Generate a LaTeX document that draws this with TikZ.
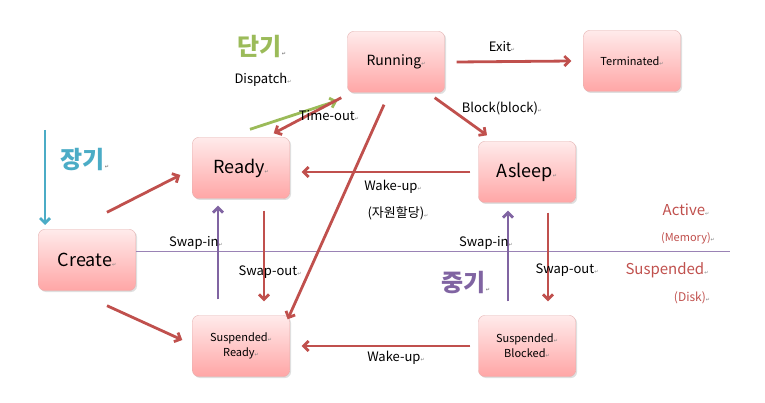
\documentclass[tikz,border=0pt]{standalone}
\usepackage{fontspec}
\setmainfont{Noto Sans CJK KR}
\newfontfamily\djv{DejaVu Sans}
\usetikzlibrary{arrows.meta,shadows}
\definecolor{ared}{HTML}{C0504D}
\definecolor{agreen}{HTML}{9BBB59}
\definecolor{apurple}{HTML}{8064A2}
\definecolor{ablue}{HTML}{4BACC6}
\newcommand{\pmk}{{\djv\color{gray}\tiny\char"21B5}}
\tikzset{
 st/.style={draw=ared!45,rounded corners=6pt,minimum width=97pt,minimum height=61pt,
   top color=red!8,bottom color=red!35,drop shadow={opacity=0.25,shadow xshift=1.5pt,shadow yshift=-1.5pt},align=center},
 ar/.style={line width=2.8pt,-{Straight Barb[length=5pt,width=10pt]},#1},
 ar/.default=ared,
 lb/.style={font=\fontsize{13}{15}\selectfont},
}
\begin{document}
\begin{tikzpicture}[x=1pt,y=-1pt]
\useasboundingbox (0,0) rectangle (765,403);
\node[st,font=\fontsize{14}{16}\selectfont] (run) at (396,62) {Running\pmk};
\node[st,font=\fontsize{11}{13}\selectfont] (term) at (632,61) {Terminated\pmk};
\node[st,font=\fontsize{18}{20}\selectfont] (ready) at (241,168) {Ready\pmk};
\node[st,font=\fontsize{18}{20}\selectfont] (asleep) at (527,172) {Asleep\pmk};
\node[st,font=\fontsize{18}{20}\selectfont] (create) at (87,260) {Create\pmk};
\node[st,font=\fontsize{11}{15}\selectfont] (sr) at (241,346) {Suspended\pmk\\Ready\pmk};
\node[st,font=\fontsize{11}{15}\selectfont] (sb) at (527,346) {Suspended\pmk\\Blocked\pmk};
\draw[apurple!80,line width=0.6pt] (create.east|-0,251) -- (730,251);
% arrows
\draw[ar] ([xshift=12pt]run.east) -- ([xshift=-12pt]term.west);
\node[lb] (lexit) at (502,47) {Exit\pmk};
\draw[ar=agreen] ([xshift=9pt,yshift=8pt]ready.north) -- ([xshift=-10pt,yshift=-8pt]run.south west);
\node[lb] (ldisp) at (263,80) {Dispatch\pmk};
\node[text=agreen,font=\fontsize{24}{26}\selectfont\bfseries] (dan) at (262,47) {단기\pmk};
\draw[ar] ([xshift=-6pt,yshift=-5pt]run.south west) -- ([xshift=-16pt,yshift=4pt]ready.north east);
\node[lb] (lto) at (329,116) {Time-out\pmk};
\draw[ar] ([xshift=-10pt,yshift=-5pt]run.south east) -- ([xshift=-40pt,yshift=6pt]asleep.north);
\node[lb] (lblk) at (502,108) {Block(block)\pmk};
\draw[ar] ([xshift=-8pt]asleep.west) -- ([xshift=12pt]asleep.west-|ready.east);
\node[lb] (lwu1) at (393,187) {Wake-up\pmk};
\node[lb] (lwu2) at (398,213) {(자원할당)\pmk};
\draw[ar] ([xshift=-12pt,yshift=-12pt]run.south) -- ([xshift=-2pt,yshift=-4pt]sr.north east);
\draw[ar] ([xshift=20pt,yshift=17pt]create.north) -- ([xshift=-12pt,yshift=-7pt]ready.west);
\draw[ar] ([xshift=20pt,yshift=-15pt]create.south) -- ([xshift=-10pt,yshift=6pt]sr.west);
\draw[ar] ([xshift=23pt,yshift=-12pt]ready.south) -- ([xshift=23pt,yshift=14pt]sr.north);
\node[lb] (lso1) at (270,272) {Swap-out\pmk};
\draw[ar=apurple] ([xshift=-23pt,yshift=16pt]sr.north) -- ([xshift=-23pt,yshift=-7pt]ready.south);
\node[lb] (lsi1) at (196,243) {Swap-in\pmk};
\draw[ar] ([xshift=21pt,yshift=-10pt]asleep.south) -- ([xshift=21pt,yshift=14pt]sb.north);
\node[lb] (lso2) at (567,270) {Swap-out\pmk};
\draw[ar=apurple] ([xshift=-19pt,yshift=14pt]sb.north) -- ([xshift=-19pt,yshift=-8pt]asleep.south);
\node[lb] (lsi2) at (486,243) {Swap-in\pmk};
\draw[ar] ([xshift=-8pt]sb.west) -- ([xshift=12pt]sr.east);
\node[lb] (lwu3) at (396,358) {Wake-up\pmk};
\draw[ar=ablue] (45,130) coordinate (b1) -- (45,225) coordinate (b2);
\node[text=ablue,font=\fontsize{24}{26}\selectfont\bfseries] (jang) at (85,160) {장기\pmk};
\node[text=apurple,font=\fontsize{24}{26}\selectfont\bfseries] (jung) at (466,283) {중기\pmk};
\node[text=ared,font=\fontsize{15}{17}\selectfont] (act) at (686,210) {Active\pmk};
\node[text=ared,font=\fontsize{11}{13}\selectfont] (mem) at (688,238) {(Memory)\pmk};
\node[text=ared,font=\fontsize{15}{17}\selectfont] (sus) at (667,270) {Suspended\pmk};
\node[text=ared,font=\fontsize{12}{14}\selectfont] (disk) at (692,298) {(Disk)\pmk};
\end{tikzpicture}
\end{document}
